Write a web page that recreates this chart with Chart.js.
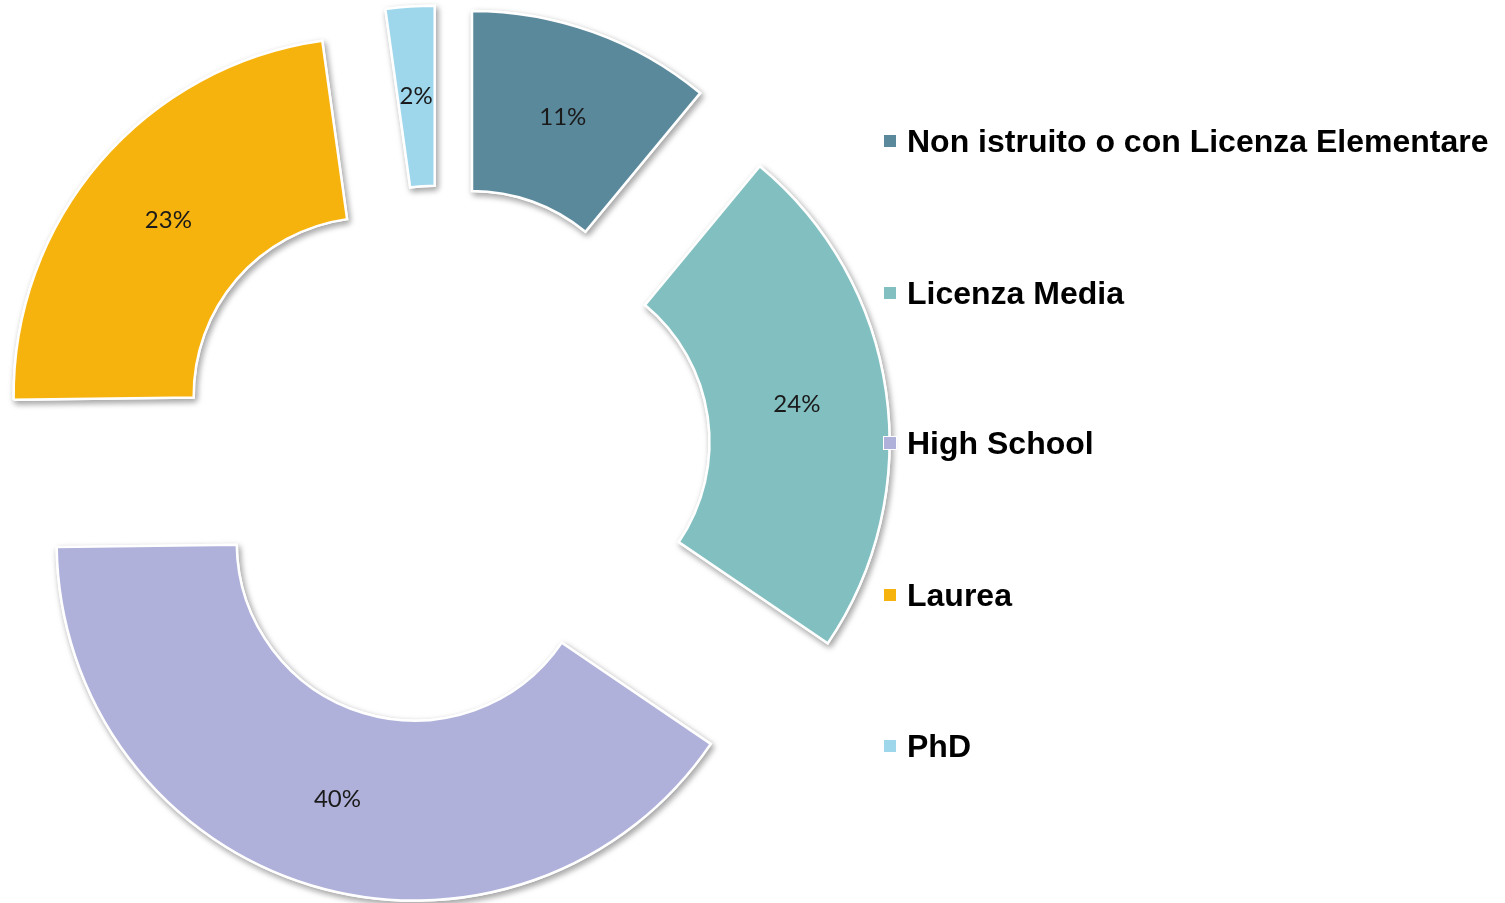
<!DOCTYPE html>
<html>
<head>
<meta charset="utf-8">
<script src="https://cdn.jsdelivr.net/npm/chart.js@4.4.1/dist/chart.umd.min.js"></script>
<style>
html, body { margin: 0; padding: 0; background: #ffffff; }
#wrap { position: relative; width: 1505px; height: 903px; overflow: hidden; }
#c { position: absolute; left: 0; top: 0; }
.leg { position: absolute; left: 883px; height: 40px; display: flex; align-items: center;
       font: bold 32px "Liberation Sans", Arial, sans-serif; color: #000; white-space: nowrap; }
.leg .box { width: 14px; height: 14px; box-sizing: border-box; border: 1px solid #ffffff; margin-right: 10px; }
</style>
</head>
<body>
<div id="wrap">
  <canvas id="c" width="1505" height="903"></canvas>
  <div id="legend"></div>
</div>
<script>
// ---- data ----
const categories = ['Non istruito o con Licenza Elementare', 'Licenza Media', 'High School', 'Laurea', 'PhD'];
const values = [11, 23.5, 40.3, 23, 2.2];
const colors = ['#5B899C', '#82BFC0', '#AFB1DA', '#F6B30D', '#9ED6EC'];
const legendCenters = [141, 293, 443, 595, 746];

// ---- layout constants ----
const EXPLODE = 91.5;
const OUTER_R = 358;

const explodePlugin = {
  id: 'explode',
  beforeDatasetDraw(chart, args) {
    const ctx = chart.ctx;
    const meta = args.meta;
    const pass = (shadow) => {
      meta.data.forEach(el => {
        const mid = (el.startAngle + el.endAngle) / 2;
        ctx.save();
        if (shadow) {
          ctx.shadowColor = 'rgba(0,0,0,0.35)';
          ctx.shadowBlur = 6;
          ctx.shadowOffsetX = 2;
          ctx.shadowOffsetY = 3;
        }
        ctx.translate(Math.cos(mid) * EXPLODE, Math.sin(mid) * EXPLODE);
        el.draw(ctx);
        ctx.restore();
      });
    };
    pass(true);
    pass(false);
    const total = values.reduce((a, b) => a + b, 0);
    ctx.save();
    ctx.fillStyle = '#1a1a1a';
    ctx.font = '24px Lato, "DejaVu Sans", sans-serif';
    ctx.textAlign = 'center';
    ctx.textBaseline = 'middle';
    meta.data.forEach((el, i) => {
      const mid = (el.startAngle + el.endAngle) / 2;
      const r = (el.innerRadius + el.outerRadius) / 2 + EXPLODE;
      ctx.fillText(Math.round(values[i] / total * 100) + '%', el.x + Math.cos(mid) * r, el.y + Math.sin(mid) * r);
    });
    ctx.restore();
    return false;
  }
};

new Chart(document.getElementById('c'), {
  type: 'doughnut',
  data: {
    labels: categories,
    datasets: [{
      data: values,
      backgroundColor: colors,
      borderColor: '#ffffff',
      borderWidth: 2.5,
      borderJoinStyle: 'miter',
      offset: 0
    }]
  },
  options: {
    responsive: false,
    animation: false,
    events: [],
    radius: OUTER_R,
    cutout: '49.7%',
    layout: { padding: { left: 0, right: 623, top: 7, bottom: 0 } },
    plugins: { legend: { display: false }, tooltip: { enabled: false } }
  },
  plugins: [explodePlugin]
});

// legend
const legEl = document.getElementById('legend');
categories.forEach((name, i) => {
  const row = document.createElement('div');
  row.className = 'leg';
  row.style.top = (legendCenters[i] - 20) + 'px';
  const box = document.createElement('span');
  box.className = 'box';
  box.style.background = colors[i];
  const txt = document.createElement('span');
  txt.textContent = name;
  row.appendChild(box);
  row.appendChild(txt);
  legEl.appendChild(row);
});
</script>
</body>
</html>
